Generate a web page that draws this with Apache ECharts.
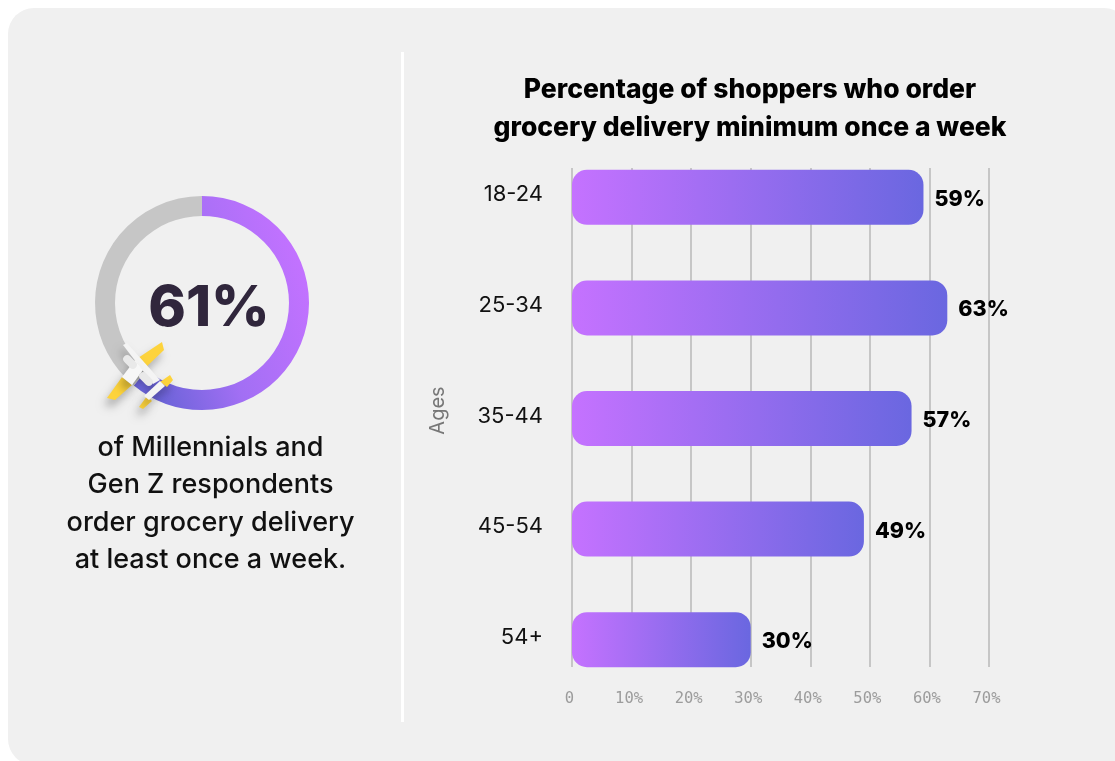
<!DOCTYPE html>
<html>
<head>
<meta charset="utf-8">
<title>Grocery delivery by age</title>
<style>
  html, body { margin: 0; padding: 0; background: #ffffff; }
  #chart { width: 1115px; height: 761px; }
</style>
<script src="https://cdn.jsdelivr.net/npm/echarts@6/dist/echarts.min.js"></script>
</head>
<body>
<div id="chart"></div>
<script>
// Weekly grocery delivery shoppers by age band
const ageGroups = ['18-24', '25-34', '35-44', '45-54', '54+'];
const weeklyShare = [59, 63, 57, 49, 30];
const axisTicks = [0, 10, 20, 30, 40, 50, 60, 70];

// Headline ring: Millennials and Gen Z ordering weekly
const ringValues = [61, 39];
const ringCaption = ['of Millennials and', 'Gen Z respondents', 'order grocery delivery', 'at least once a week.'];
const chartTitle = 'Percentage of shoppers who order\ngrocery delivery minimum once a week';

const headingFont = 'Inter, sans-serif';
const barGradient = {
  type: 'linear', x: 0, y: 0, x2: 1, y2: 0,
  colorStops: [{ offset: 0, color: '#c572ff' }, { offset: 1, color: '#6a67e0' }]
};
const ringGradient = {
  type: 'linear', x: 309, y: 290, x2: 140, y2: 350, global: true,
  colorStops: [
    { offset: 0, color: '#c272ff' },
    { offset: 0.55, color: '#a26ff4' },
    { offset: 1, color: '#6a63d8' }
  ]
};

const planeShadow = { shadowBlur: 9, shadowColor: 'rgba(0,0,0,0.28)', shadowOffsetX: -3, shadowOffsetY: 7 };
function planePart(points, fill, z) {
  return {
    type: 'polygon', z: z, silent: true,
    shape: { points: points },
    style: Object.assign({ fill: fill }, planeShadow)
  };
}

const chart = echarts.init(document.getElementById('chart'), null, { renderer: 'canvas' });
chart.setOption({
  animation: false,
  backgroundColor: '#ffffff',
  textStyle: { fontFamily: headingFont },
  title: {
    text: chartTitle, left: 745, top: 66, textAlign: 'center',
    textStyle: { fontFamily: headingFont, fontSize: 26.5, fontWeight: 800, color: '#000000', lineHeight: 38 }
  },
  // Grid 0 carries the visible scale; grid 1 lays out the bars on the same scale
  grid: [
    { left: 572, width: 417, top: 168, height: 499 },
    { left: 572, width: 417, top: 142, height: 553 }
  ],
  xAxis: [
    {
      type: 'value', gridIndex: 0, min: 0, max: 70, interval: 10,
      axisLine: { show: false }, axisTick: { show: false },
      splitLine: { show: true, lineStyle: { color: '#c6c6c6', width: 2 } },
      axisLabel: {
        margin: 24, color: '#9c9c9c', fontFamily: '"DejaVu Sans Mono", monospace', fontSize: 15.5,
        padding: [0, 5, 0, 0],
        formatter: v => axisTicks.includes(v) ? (v === 0 ? '0' : v + '%') : ''
      }
    },
    { type: 'value', gridIndex: 1, min: 0, max: 70, interval: 10, show: false }
  ],
  yAxis: [
    {
      type: 'category', gridIndex: 1, inverse: true, data: ageGroups,
      axisLine: { show: false }, axisTick: { show: false }, splitLine: { show: false },
      axisLabel: { margin: 29, color: '#111111', fontSize: 22, fontFamily: headingFont, verticalAlign: 'bottom', lineHeight: 5 },
      name: 'Ages', nameLocation: 'middle', nameGap: 124, nameRotate: 90,
      nameTextStyle: { color: '#777777', fontSize: 20, fontFamily: headingFont, padding: [0, 0, 0, 16] }
    },
    { type: 'category', gridIndex: 0, show: false, data: ageGroups }
  ],
  series: [
    {
      type: 'bar', xAxisIndex: 1, yAxisIndex: 0, data: weeklyShare, barWidth: 55, z: 3,
      itemStyle: { color: barGradient, borderRadius: 15 },
      label: {
        show: true, position: 'right', distance: 11, formatter: '{c}%', offset: [0, 2],
        color: '#000000', fontFamily: headingFont, fontSize: 21.5, fontWeight: 800
      }
    },
    {
      type: 'pie', center: [202, 303], radius: [87, 107], startAngle: 90, clockwise: true,
      data: ringValues, silent: true, z: 2, label: { show: false }, labelLine: { show: false },
      itemStyle: {
        color: p => p.dataIndex === 0 ? ringGradient : '#c6c6c6'
      }
    }
  ],
  graphic: [
    // Card and divider
    { type: 'rect', z: -10, silent: true, shape: { x: 8, y: 8, width: 1122, height: 757, r: 26 }, style: { fill: '#f0f0f0' } },
    { type: 'rect', z: -9, silent: true, shape: { x: 401, y: 52, width: 3, height: 670 }, style: { fill: '#ffffff' } },

    // Ring headline and caption
    { type: 'text', z: 10, silent: true, style: { x: 209, y: 309, text: ringValues[0] + '%', align: 'center', verticalAlign: 'middle', fill: '#30263c', font: '800 57px ' + headingFont } },
    ...ringCaption.map((line, i) => ({
      type: 'text', z: 10, silent: true,
      style: { x: 210.5, y: 447.5 + i * 37.5, text: line, align: 'center', verticalAlign: 'middle', fill: '#111111', font: '500 27px ' + headingFont }
    })),

    // Small aeroplane sitting on the end of the ring
    planePart([[162, 342], [164, 350], [143, 370], [135, 360]], '#fdd33c', 20),
    planePart([[107, 398], [115, 400], [132, 385], [122, 377]], '#fdd33c', 20),
    planePart([[170, 375], [173, 380], [167, 387], [160, 382]], '#fdd33c', 20),
    planePart([[147, 396], [152, 401], [143, 409], [139, 407]], '#fdd33c', 20),
    planePart([[123, 345], [127, 343], [160, 380], [153, 384]], '#f4f4f4', 21),
    planePart([[135, 360], [143, 370], [132, 385], [122, 377]], '#f7f7f7', 22),
    planePart([[160, 381], [165, 386], [149, 400], [144, 396]], '#f4f4f4', 21),
    { type: 'rect', z: 23, silent: true, rotation: Math.PI / 4, x: 130, y: 362, originX: 0, originY: 0, shape: { x: -4, y: -8, width: 8, height: 16, r: 4 }, style: { fill: '#e9e9e9' } },
    { type: 'rect', z: 23, silent: true, rotation: Math.PI / 4, x: 146, y: 379, originX: 0, originY: 0, shape: { x: -4, y: -8, width: 8, height: 16, r: 4 }, style: { fill: '#e9e9e9' } }
  ]
});
</script>
</body>
</html>
